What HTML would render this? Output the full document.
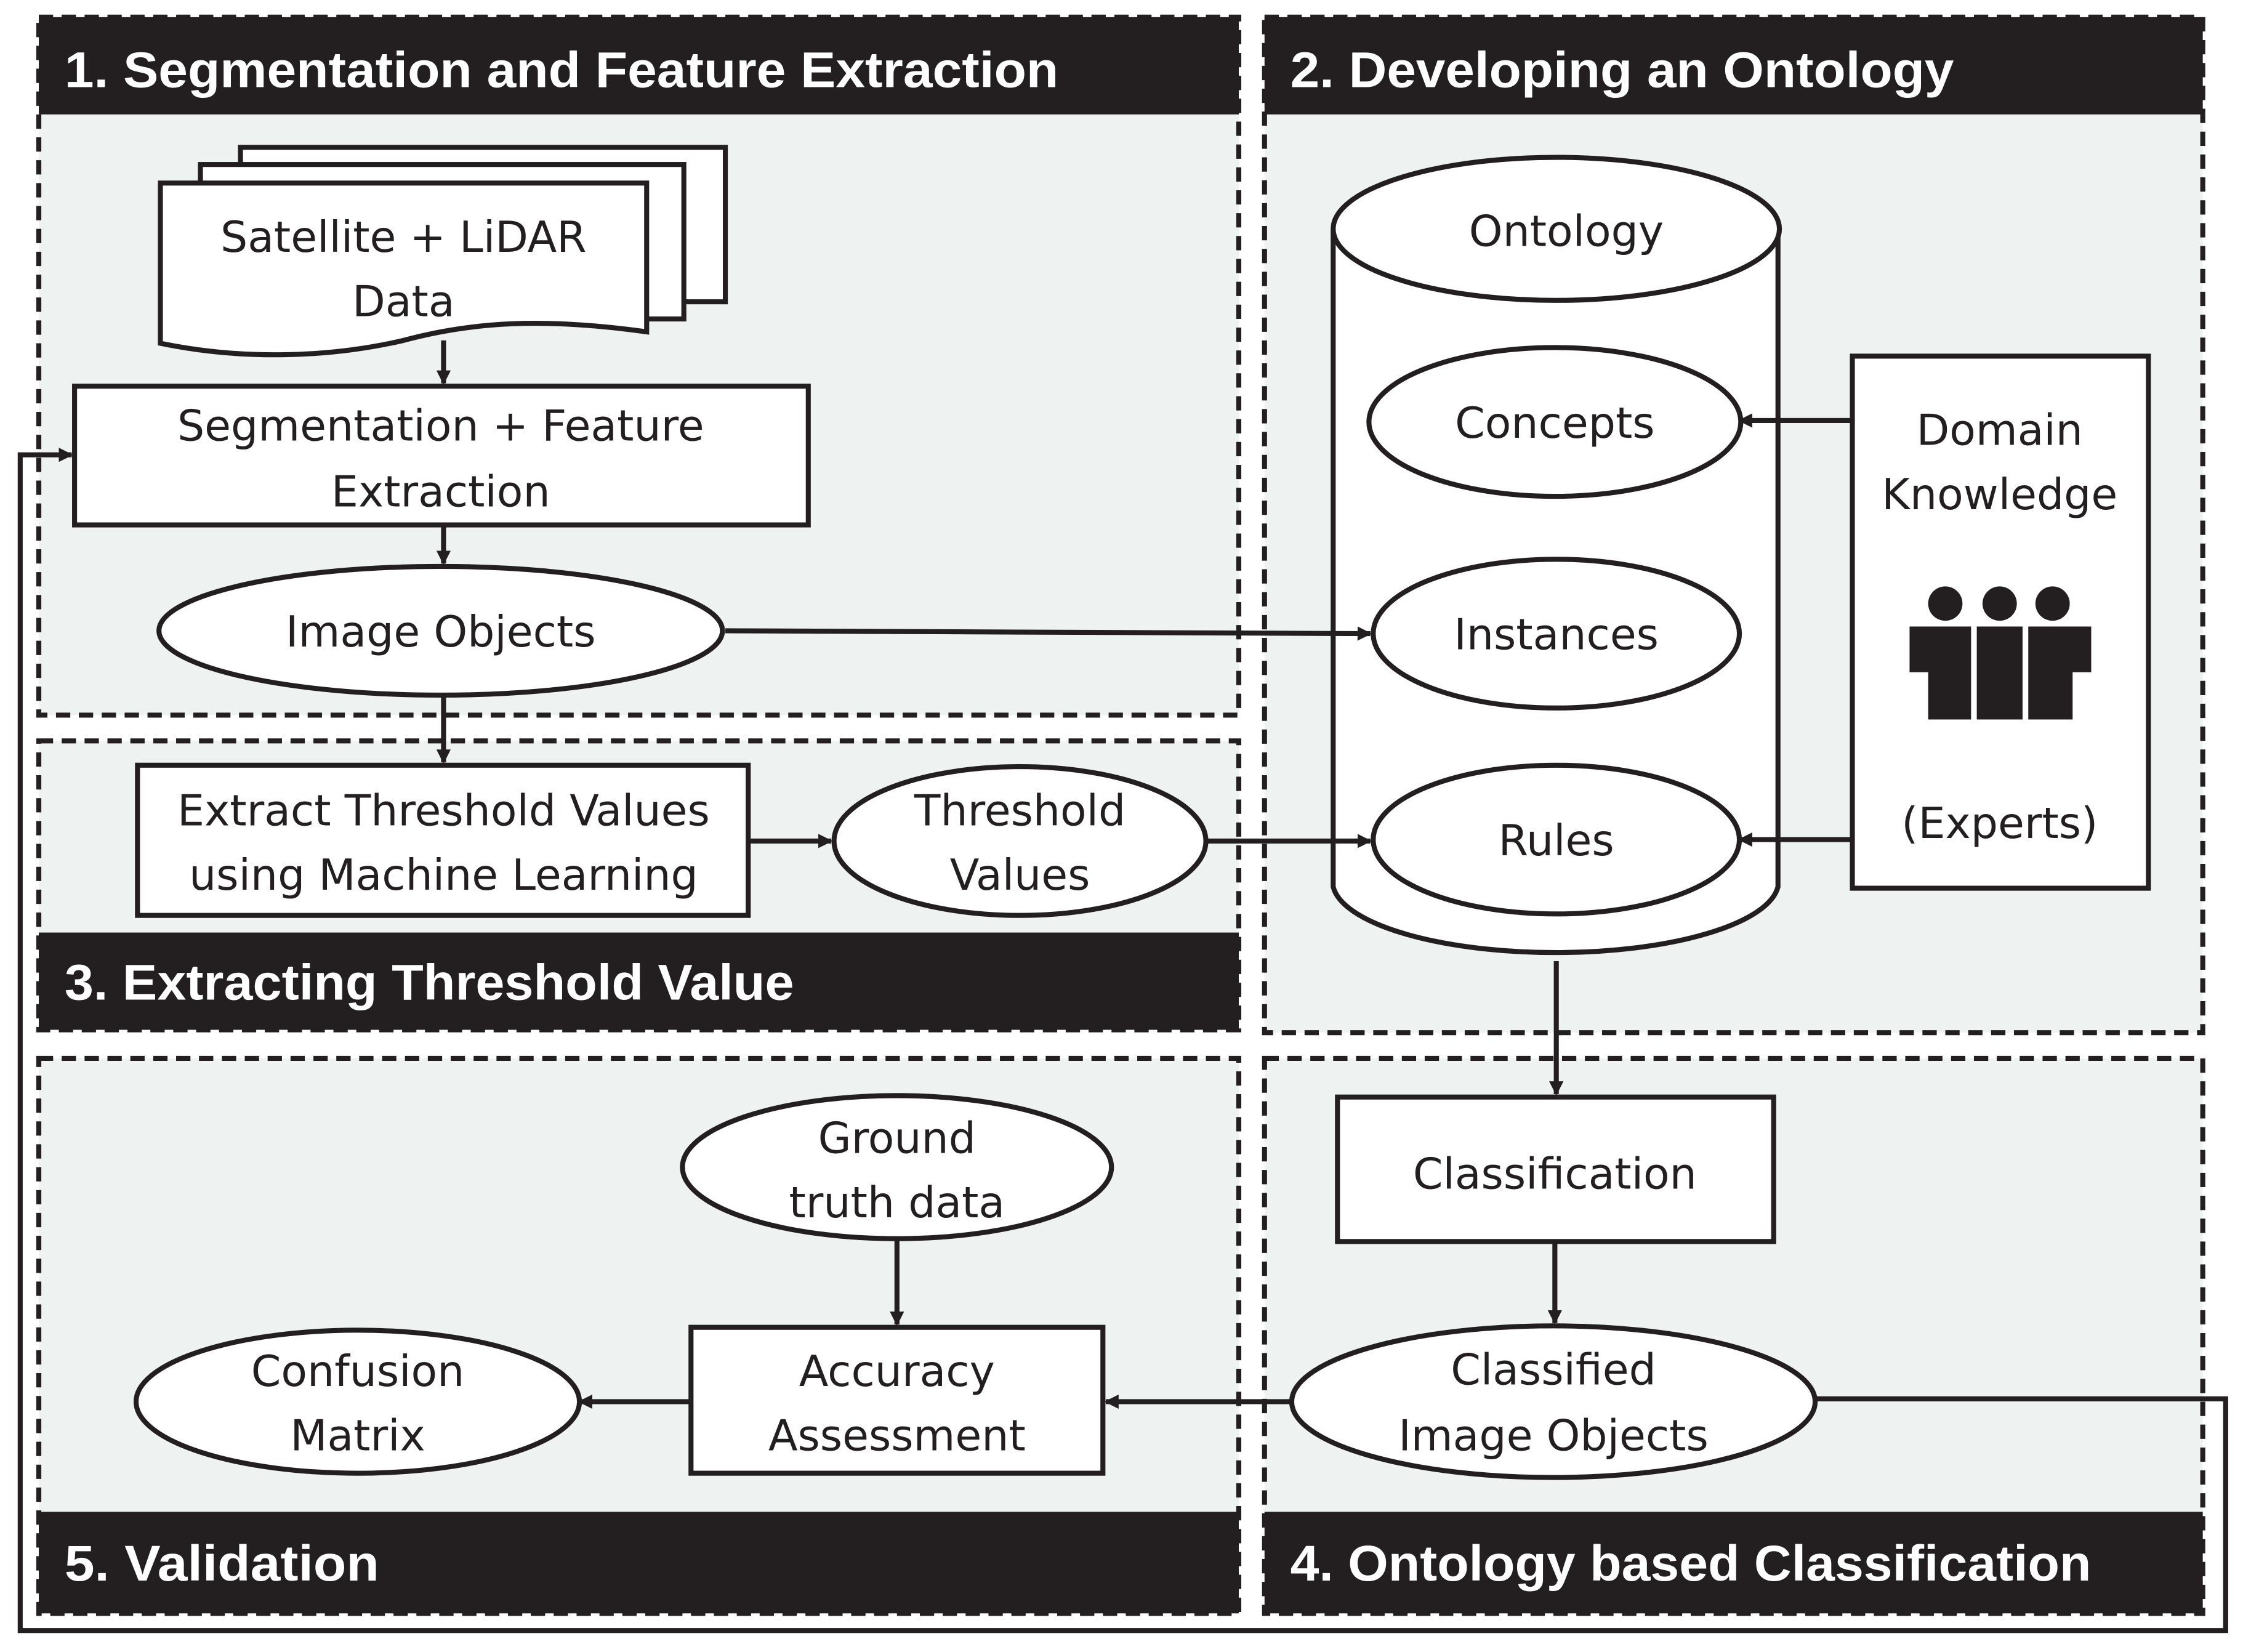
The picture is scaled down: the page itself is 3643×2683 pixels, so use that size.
<!DOCTYPE html>
<html><head><meta charset="utf-8"><style>
html,body{margin:0;padding:0;background:#fff;}
svg{display:block;}
.t{font-family:"DejaVu Sans","Liberation Sans",sans-serif;}
</style></head><body>
<svg width="3643" height="2683" viewBox="0 0 1568 1155" xmlns="http://www.w3.org/2000/svg">
<defs>
<marker id="a" markerWidth="10" markerHeight="10" refX="9" refY="5" orient="auto" markerUnits="userSpaceOnUse">
<path d="M0,0 L10,5 L0,10 z" fill="#231f20"/></marker>
</defs>
<rect width="1568" height="1155" fill="#fff"/>
<g fill="#eef2f1" stroke="#231f20" stroke-width="3.5" stroke-dasharray="10,6">
<rect x="27" y="12" width="839" height="488"/>
<rect x="884" y="12" width="656" height="710"/>
<rect x="27" y="518" width="839" height="202"/>
<rect x="27" y="740" width="839" height="388"/>
<rect x="884" y="740" width="656" height="388"/>
</g>
<g fill="#231f20">
<rect x="27" y="12" width="839" height="68"/>
<rect x="884" y="12" width="656" height="68"/>
<rect x="27" y="652" width="839" height="68"/>
<rect x="27" y="1057" width="839" height="71"/>
<rect x="884" y="1057" width="656" height="71"/>
</g>
<g fill="#fff" style="font-family:'Liberation Sans',sans-serif;font-weight:bold;font-size:35px">
<text x="45" y="61" textLength="695" lengthAdjust="spacingAndGlyphs">1. Segmentation and Feature Extraction</text>
<text x="902" y="61" textLength="464" lengthAdjust="spacingAndGlyphs">2. Developing an Ontology</text>
<text x="45" y="699" textLength="510" lengthAdjust="spacingAndGlyphs">3. Extracting Threshold Value</text>
<text x="45" y="1105" textLength="220" lengthAdjust="spacingAndGlyphs">5. Validation</text>
<text x="902" y="1105" textLength="560" lengthAdjust="spacingAndGlyphs">4. Ontology based Classification</text>
</g>
<g fill="#fff" stroke="#231f20" stroke-width="3.5">
<rect x="168" y="103" width="339" height="108"/>
<rect x="140" y="115" width="338" height="108"/>
<path d="M112,128 H452 V232 C380,222 330,225 282,238 C230,250 170,252 112,240 Z"/>
<rect x="52" y="270" width="513" height="97"/>
<ellipse cx="308" cy="441" rx="197" ry="45"/>
<rect x="96" y="535" width="427" height="105"/>
<ellipse cx="713" cy="588" rx="130" ry="52"/>
<path d="M932,160 V620 A156,50 0 0 0 1243,620 V160"/>
<ellipse cx="1088" cy="160" rx="156" ry="50"/>
<ellipse cx="1087" cy="295" rx="130" ry="52"/>
<ellipse cx="1088" cy="443" rx="128" ry="52"/>
<ellipse cx="1088" cy="587" rx="128" ry="52"/>
<rect x="1295" y="249" width="207" height="372"/>
<rect x="935" y="767" width="305" height="101"/>
<ellipse cx="1086" cy="980" rx="183" ry="53"/>
<rect x="483" y="928" width="288" height="102"/>
<ellipse cx="627" cy="816" rx="150" ry="50"/>
<ellipse cx="250" cy="980" rx="155" ry="50"/>
</g>
<g stroke="#231f20" stroke-width="3.5" fill="none" marker-end="url(#a)">
<line x1="310" y1="238" x2="310" y2="268"/>
<line x1="310" y1="367" x2="310" y2="394"/>
<line x1="507" y1="441" x2="958" y2="443"/>
<line x1="310" y1="486" x2="310" y2="533"/>
<line x1="523" y1="588" x2="581" y2="588"/>
<line x1="843" y1="588" x2="958" y2="588"/>
<line x1="1295" y1="294" x2="1216" y2="294"/>
<line x1="1295" y1="587" x2="1216" y2="587"/>
<line x1="1088" y1="672" x2="1088" y2="765"/>
<line x1="1087" y1="868" x2="1087" y2="925"/>
<line x1="903" y1="980" x2="773" y2="980"/>
<line x1="627" y1="866" x2="627" y2="926"/>
<line x1="483" y1="980" x2="405" y2="980"/>
<polyline points="1268,978 1556,978 1556,1140 14,1140 14,318 50,318"/>
</g>
<g fill="#231f20">
<circle cx="1360" cy="422" r="12"/><circle cx="1398" cy="422" r="12"/><circle cx="1435" cy="422" r="12"/>
<path d="M1335,438 H1378 V503 H1348 V470 H1335 Z"/>
<path d="M1382,438 H1414 V503 H1382 Z"/>
<path d="M1418,438 H1462 V470 H1449 V503 H1418 Z"/>
</g>
<g fill="#231f20" font-size="30" text-anchor="middle" class="t">
<text x="282" y="176">Satellite + LiDAR</text>
<text x="282" y="221">Data</text>
<text x="308" y="308">Segmentation + Feature</text>
<text x="308" y="354">Extraction</text>
<text x="308" y="452">Image Objects</text>
<text x="310" y="577">Extract Threshold Values</text>
<text x="310" y="622">using Machine Learning</text>
<text x="713" y="577">Threshold</text>
<text x="713" y="622">Values</text>
<text x="1095" y="172">Ontology</text>
<text x="1087" y="306">Concepts</text>
<text x="1088" y="454">Instances</text>
<text x="1088" y="598">Rules</text>
<text x="1398" y="311">Domain</text>
<text x="1398" y="356">Knowledge</text>
<text x="1398" y="586">(Experts)</text>
<text x="1087" y="831">Classification</text>
<text x="1086" y="968">Classified</text>
<text x="1086" y="1014">Image Objects</text>
<text x="627" y="806">Ground</text>
<text x="627" y="851">truth data</text>
<text x="627" y="969">Accuracy</text>
<text x="627" y="1014">Assessment</text>
<text x="250" y="969">Confusion</text>
<text x="250" y="1014">Matrix</text>
</g>
</svg>
</body></html>
